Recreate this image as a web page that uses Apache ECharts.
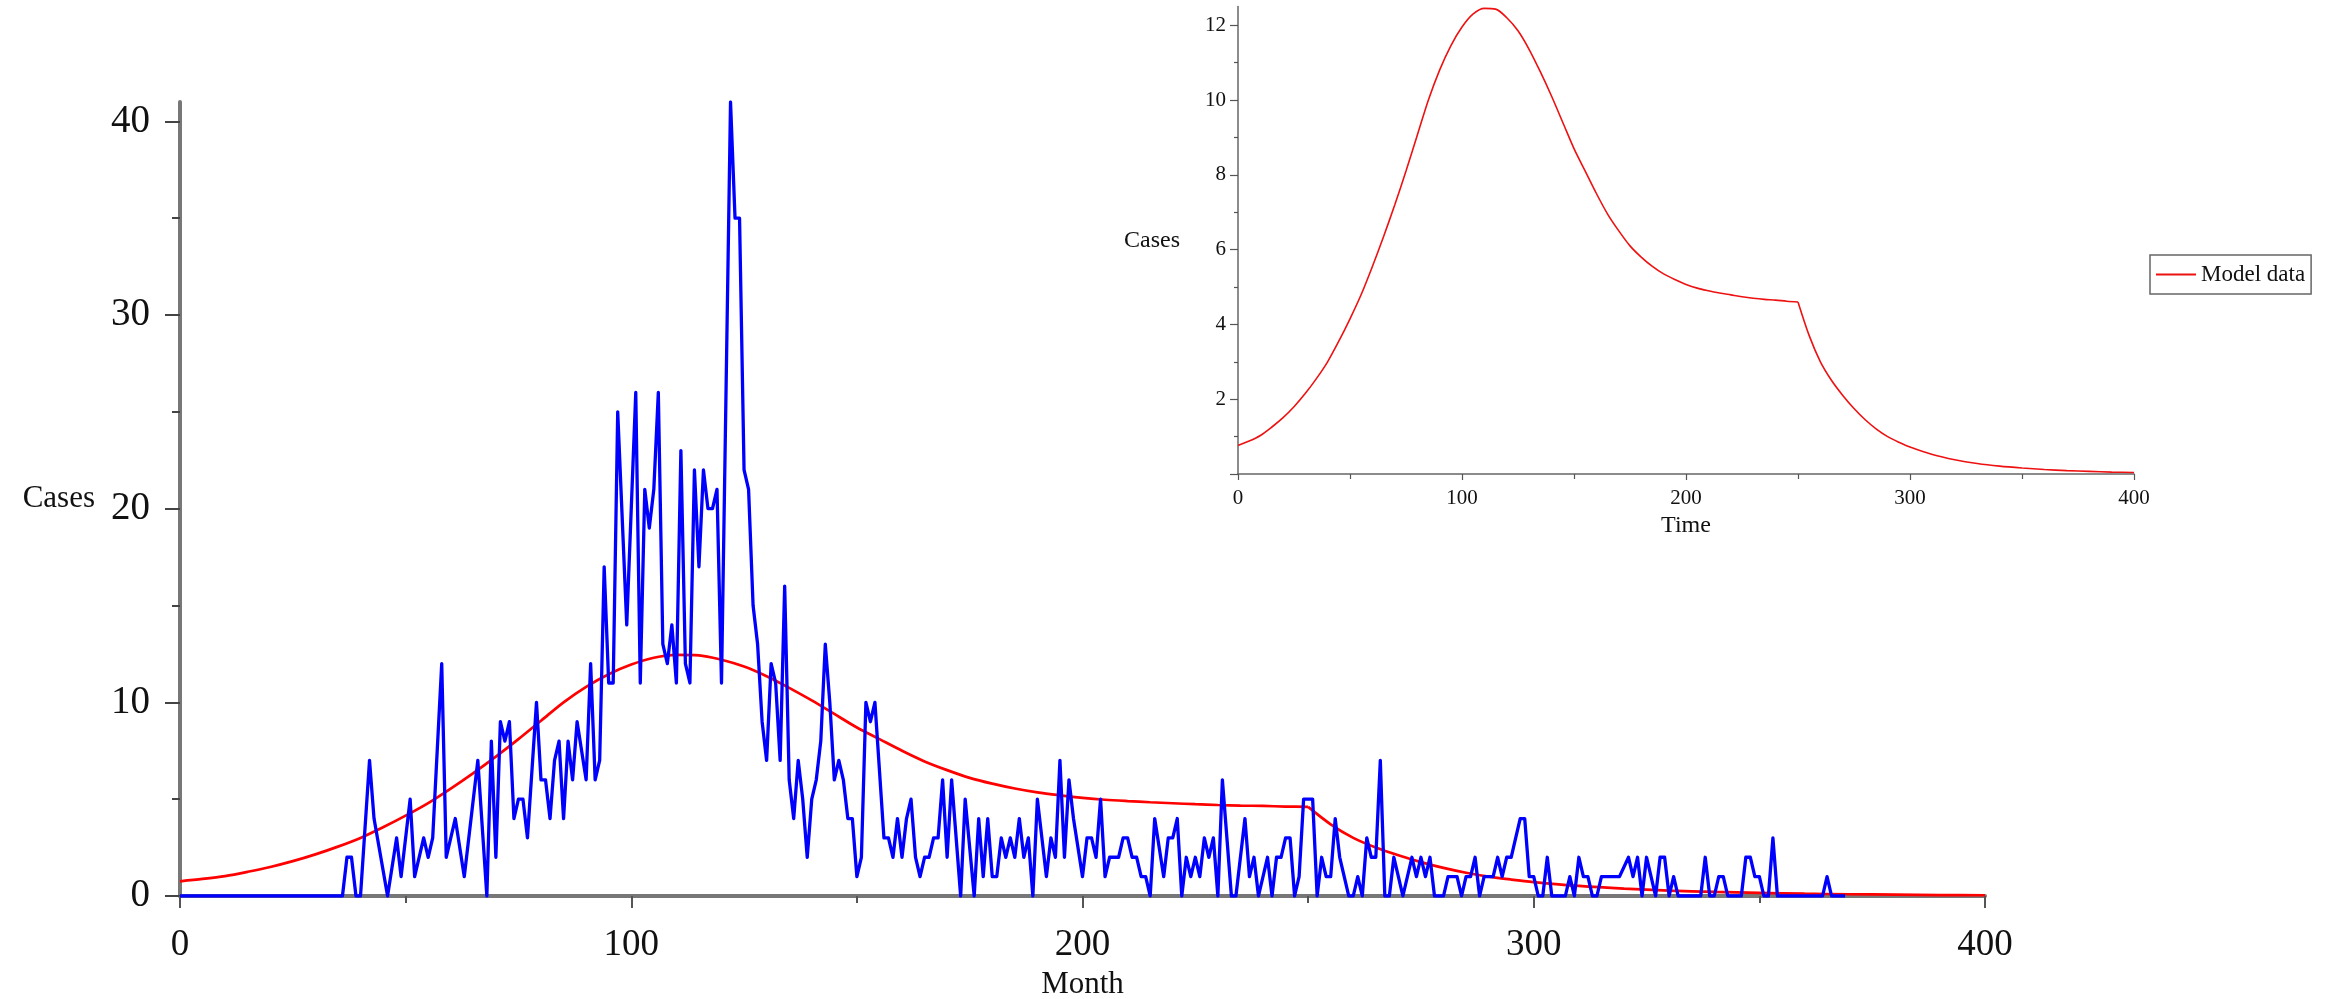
<!DOCTYPE html>
<html>
<head>
<meta charset="utf-8">
<script src="https://cdn.jsdelivr.net/npm/echarts@6/dist/echarts.min.js"></script>
<style>
html,body{margin:0;padding:0;background:#fff;}
#chart{width:2336px;height:999px;}
</style>
</head>
<body>
<div id="chart"></div>
<script>
// ---- Data ----
const blueMonths = [0,36,37,38,39,40,42,43,46,48,49,51,52,54,55,56,58,59,61,63,66,68,69,70,71,72,73,74,75,76,77,79,80,81,82,83,84,85,86,87,88,90,91,92,93,94,95,96,97,99,101,102,103,104,105,106,107,108,109,110,111,112,113,114,115,116,117,118,119,120,122,123,124,125,126,127,128,129,130,131,132,133,134,135,136,137,138,139,140,141,142,143,144,145,146,147,148,149,150,151,152,153,154,156,157,158,159,160,161,162,163,164,165,166,167,168,169,170,171,173,174,176,177,178,179,180,181,182,183,184,185,186,187,188,189,190,192,193,194,195,196,197,198,200,201,202,203,204,205,206,208,209,210,211,212,213,214,215,216,218,219,220,221,222,223,224,225,226,227,228,229,230,231,233,234,236,237,238,239,241,242,243,244,245,246,247,248,249,251,252,253,254,255,256,257,258,259,260,261,262,263,264,265,266,267,268,269,270,271,273,274,275,276,277,278,279,280,281,282,283,284,285,286,287,288,289,290,291,292,293,294,295,296,297,298,299,300,301,302,303,304,307,308,309,310,311,312,313,314,315,316,317,318,319,321,322,323,324,325,326,327,328,329,330,331,332,337,338,339,340,341,342,343,346,347,348,349,350,351,352,353,354,364,365,366,369];
const blueCases  = [0,0,2,2,0,0,7,4,0,3,1,5,1,3,2,3,12,2,4,1,7,0,8,2,9,8,9,4,5,5,3,10,6,6,4,7,8,4,8,6,9,6,12,6,7,17,11,11,25,14,26,11,21,19,21,26,13,12,14,11,23,12,11,22,17,22,20,20,21,11,41,35,35,22,21,15,13,9,7,12,11,7,16,6,4,7,5,2,5,6,8,13,10,6,7,6,4,4,1,2,10,9,10,3,3,2,4,2,4,5,2,1,2,2,3,3,6,2,6,0,5,0,4,1,4,1,1,3,2,3,2,4,2,3,0,5,1,3,2,7,2,6,4,1,3,3,2,5,1,2,2,3,3,2,2,1,1,0,4,1,3,3,4,0,2,1,2,1,3,2,3,0,6,0,0,4,1,2,0,2,0,2,2,3,3,0,1,5,5,0,2,1,1,4,2,1,0,0,1,0,3,2,2,7,0,0,2,1,0,2,1,2,1,2,0,0,0,1,1,1,0,1,1,2,0,1,1,1,2,1,2,2,3,4,4,1,1,0,0,2,0,0,1,0,2,1,1,0,0,1,1,1,1,1,2,1,2,0,2,1,0,2,2,0,1,0,0,2,0,0,1,1,0,0,2,2,1,1,0,0,3,0,0,1,0,0];

const modelTime  = [0,5,10,15,20,25,30,35,40,45,50,55,60,65,70,75,80,85,90,95,100,105,110,115,120,125,130,135,140,145,150,155,160,165,170,175,180,185,190,195,200,205,210,215,220,225,230,235,240,245,250,255,260,265,270,275,280,285,290,295,300,310,320,330,340,350,360,370,380,390,400];
const modelCases = [0.76,0.88,1.03,1.25,1.5,1.8,2.15,2.55,3.0,3.55,4.15,4.8,5.55,6.35,7.2,8.1,9.05,10.0,10.8,11.45,11.95,12.3,12.45,12.43,12.2,11.85,11.35,10.75,10.1,9.4,8.7,8.1,7.5,6.95,6.5,6.1,5.8,5.55,5.35,5.2,5.07,4.97,4.9,4.84,4.79,4.74,4.7,4.67,4.65,4.62,4.6,3.7,3.0,2.5,2.1,1.75,1.45,1.2,1.0,0.85,0.72,0.52,0.38,0.28,0.21,0.16,0.12,0.09,0.07,0.05,0.04];
const modelSwitchTime = 250;

const mainYTicks  = [0,10,20,30,40];
const insetYTicks = [2,4,6,8,10,12];
const xTickLabels = [0,100,200,300,400];

// ---- Build ----
const bluePairs  = blueMonths.map((m,i)=>[m, blueCases[i]]);
const modelPairs = modelTime.map((t,i)=>[t, modelCases[i]]);
const modelBefore = modelPairs.filter(p=>p[0] <= modelSwitchTime);
const modelAfter  = modelPairs.filter(p=>p[0] >= modelSwitchTime);

const FONT = '"Liberation Serif","Times New Roman",serif';
const chart = echarts.init(document.getElementById('chart'), null, {renderer:'canvas'});

function modelSeries(name, data, xi, color, width, z){
  return {
    name:name, type:'line', xAxisIndex:xi, yAxisIndex:xi,
    data:data, showSymbol:false, symbol:'none',
    smooth:0.3,
    lineStyle:{color:color, width:width}, itemStyle:{color:color}, z:z
  };
}

chart.setOption({
  animation:false,
  backgroundColor:'#ffffff',
  textStyle:{fontFamily:FONT},
  grid:[
    {left:180, right:351, top:102, bottom:103, containLabel:false, outerBoundsMode:'none'},
    {left:1238, right:202, top:6.5, bottom:525, containLabel:false, outerBoundsMode:'none'}
  ],
  legend:{
    data:[{name:'Model data', icon:'rect'}],
    left:2150, top:255,
    orient:'horizontal',
    itemWidth:40, itemHeight:2, itemGap:6,
    padding:[8,6,8,6],
    borderColor:'#666', borderWidth:1.5, backgroundColor:'#fff',
    textStyle:{fontFamily:FONT, fontSize:23, color:'#111'}
  },
  xAxis:[
    {
      gridIndex:0, type:'value', min:0, max:400, interval:100,
      name:'Month', nameLocation:'middle', nameGap:72,
      nameTextStyle:{fontFamily:FONT, fontSize:31, color:'#111'},
      axisLine:{show:true, onZero:false, lineStyle:{color:'#777', width:4}},
      axisTick:{show:true, inside:false, length:12, lineStyle:{color:'#555', width:2}},
      minorTick:{show:true, splitNumber:2, length:7, lineStyle:{color:'#555', width:2}},
      axisLabel:{fontFamily:FONT, fontSize:37, color:'#111', margin:31, customValues:xTickLabels},
      splitLine:{show:false}
    },
    {
      gridIndex:1, type:'value', min:0, max:400, interval:100,
      name:'Time', nameLocation:'middle', nameGap:40,
      nameTextStyle:{fontFamily:FONT, fontSize:24, color:'#111'},
      axisLine:{show:true, onZero:false, lineStyle:{color:'#666', width:1.5}},
      axisTick:{show:true, inside:false, length:6, lineStyle:{color:'#555', width:1.2}},
      minorTick:{show:true, splitNumber:2, length:5, lineStyle:{color:'#555', width:1.2}},
      axisLabel:{fontFamily:FONT, fontSize:21, color:'#111', margin:14, customValues:xTickLabels},
      splitLine:{show:false}
    }
  ],
  yAxis:[
    {
      gridIndex:0, type:'value', min:0, max:41, interval:10,
      name:'Cases', nameLocation:'middle', nameRotate:0, nameGap:85,
      nameTextStyle:{fontFamily:FONT, fontSize:31, color:'#111', align:'right', verticalAlign:'middle'},
      axisLine:{show:true, onZero:false, lineStyle:{color:'#777', width:4}},
      axisTick:{show:true, inside:false, length:15, lineStyle:{color:'#444', width:2}, customValues:mainYTicks},
      minorTick:{show:true, splitNumber:2, length:8, lineStyle:{color:'#444', width:2}},
      axisLabel:{fontFamily:FONT, fontSize:39, color:'#111', margin:30, customValues:mainYTicks},
      splitLine:{show:false}
    },
    {
      gridIndex:1, type:'value', min:0, max:12.5, interval:2,
      name:'Cases', nameLocation:'middle', nameRotate:0, nameGap:58,
      nameTextStyle:{fontFamily:FONT, fontSize:24, color:'#111', align:'right', verticalAlign:'middle'},
      axisLine:{show:true, onZero:false, lineStyle:{color:'#666', width:1.5}},
      axisTick:{show:true, inside:false, length:8, lineStyle:{color:'#555', width:1.2}, customValues:[0].concat(insetYTicks)},
      minorTick:{show:true, splitNumber:2, length:4, lineStyle:{color:'#555', width:1.2}},
      axisLabel:{fontFamily:FONT, fontSize:21, color:'#111', margin:12, customValues:insetYTicks},
      splitLine:{show:false}
    }
  ],
  series:[
    modelSeries('Model', modelBefore, 0, '#ff0000', 2.7, 2),
    modelSeries('Model', modelAfter, 0, '#ff0000', 2.7, 2),
    {
      name:'Cases data', type:'line', xAxisIndex:0, yAxisIndex:0,
      data:bluePairs, showSymbol:false, symbol:'none',
      lineStyle:{color:'#0000ff', width:3.3, join:'round'}, itemStyle:{color:'#0000ff'}, z:3
    },
    modelSeries('Model data', modelBefore, 1, '#ee1111', 1.6, 2),
    modelSeries('Model data', modelAfter, 1, '#ee1111', 1.6, 2)
  ]
});
</script>
</body>
</html>
